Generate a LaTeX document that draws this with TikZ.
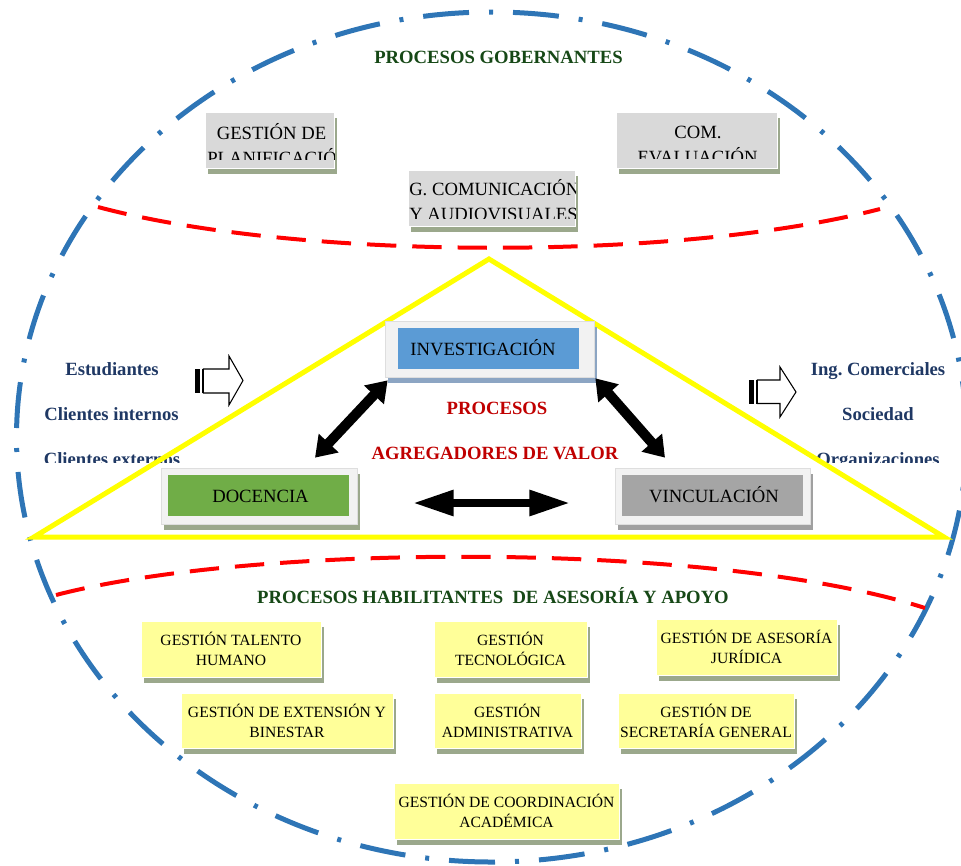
\documentclass[tikz,border=0pt]{standalone}
\usepackage{fontspec}
\setmainfont{Liberation Serif}
\usetikzlibrary{calc,shadows,arrows.meta}
\frenchspacing

\definecolor{ellblue}{RGB}{46,117,182}
\definecolor{dashred}{RGB}{255,0,0}
\definecolor{triyellow}{RGB}{255,255,0}
\definecolor{headgreen}{RGB}{22,72,22}
\definecolor{clientblue}{RGB}{31,56,100}
\definecolor{valred}{RGB}{192,0,0}
\definecolor{govgray}{RGB}{217,217,217}
\definecolor{shgreen}{RGB}{155,168,140}
\definecolor{shblue}{RGB}{140,165,195}
\definecolor{shgray}{RGB}{160,160,160}
\definecolor{framegray}{RGB}{242,242,242}
\definecolor{framedraw}{RGB}{222,222,222}
\definecolor{invblue}{RGB}{91,155,213}
\definecolor{docgreen}{RGB}{112,173,71}
\definecolor{vingray}{RGB}{165,165,165}
\definecolor{supyellow}{RGB}{255,255,153}

\tikzset{
  ellipseline/.style={ellblue, line width=3.75pt,
    dash pattern=on 34.5pt off 15pt on 3pt off 15pt, dash phase=60pt},
  sepline/.style={dashred, line width=3pt, dash pattern=on 22pt off 12pt},
  triline/.style={triyellow, line width=3.75pt, line join=miter},
  govbox/.style={fill=govgray, draw=white, line width=0.5pt,
    minimum width=#1, minimum height=42pt, inner sep=0pt,
    drop shadow={shadow xshift=2.25pt, shadow yshift=-4.5pt, fill=shgreen, opacity=1}},
  govtext/.style={font=\fontsize{14}{18}\selectfont, inner sep=0pt, text=black},
  frame/.style={fill=framegray, draw=framedraw, line width=0.5pt,
    minimum width=#1, minimum height=42pt, inner sep=0pt},
  framesh/.style={drop shadow={shadow xshift=2.25pt, shadow yshift=-4.5pt, fill=#1, opacity=1}},
  corebox/.style={minimum width=135.75pt, minimum height=30.75pt, inner sep=0pt},
  coretext/.style={font=\fontsize{14}{18}\selectfont, inner sep=0pt, anchor=base},
  supbox/.style={fill=supyellow, draw=white, line width=0.5pt,
    minimum width=#1, minimum height=42pt, inner xsep=0pt, inner ysep=2pt,
    align=center, font=\fontsize{11.7}{15}\selectfont,
    drop shadow={shadow xshift=2.25pt, shadow yshift=-4.5pt, fill=shgreen, opacity=1}},
  headtext/.style={font=\fontsize{14}{18}\selectfont\bfseries, text=headgreen, inner sep=0pt, anchor=base},
  valtext/.style={font=\fontsize{14}{18}\selectfont\bfseries, text=valred, inner sep=0pt, anchor=base},
  clienttext/.style={font=\fontsize{14}{18}\selectfont\bfseries, text=clientblue, inner sep=0pt, anchor=base},
  diagarrow/.style={line width=7.5pt,
    {Triangle[length=15pt,width=19.5pt]}-{Triangle[length=15pt,width=19.5pt]}},
  horizarrow/.style={line width=6.5pt,
    {Triangle[length=31pt,width=18pt]}-{Triangle[length=31pt,width=18pt]}},
  hollowarrow/.style={draw=black, fill=white, line width=0.8pt, line join=miter},
}

\begin{document}
\begin{tikzpicture}[x=0.75pt,y=-0.75pt]
\useasboundingbox (0,0) rectangle (961,865);

% outer boundary of the process map
\draw[ellipseline] (491.5,437) ellipse [x radius=356.25pt, y radius=318.75pt];

% separators between the three levels
\draw[sepline] (98,207) .. controls (300,261) and (680,261) .. (880,209);
\draw[sepline] (56,595) .. controls (260,542) and (720,542) .. (925,608);

% ---------- governing processes ----------
\node[headtext] (gobtitle) at (498.5,63) {PROCESOS GOBERNANTES};

\node[govbox=96.75pt] (plan) at (269.5,140) {};
\begin{scope}
  \clip (205,112) rectangle (334,159);
  \node[govtext, anchor=base] (plana) at (271.5,139) {GESTIÓN DE};
  \node[govtext, anchor=base west] (planb) at (207,164) {PLANIFICACIÓ};
\end{scope}

\node[govbox=120.75pt] (comev) at (696.5,140) {};
\begin{scope}
  \clip (616,112) rectangle (777,158);
  \node[govtext, anchor=base] (comeva) at (698,138) {COM.};
  \node[govtext, anchor=base] (comevb) at (697.5,163) {EVALUACIÓN};
\end{scope}

\node[govbox=125.25pt] (gcom) at (491.5,198) {};
\begin{scope}
  \clip (408,170) rectangle (575,218);
  \node[govtext, anchor=base west] (gcoma) at (409,195) {G. COMUNICACIÓN};
  \node[govtext, anchor=base west] (gcomb) at (409,220) {Y AUDIOVISUALES};
\end{scope}

% ---------- inputs and outputs ----------
\begin{scope}
  \clip (0,330) rectangle (200,462);
  \node[clienttext] (inA) at (112,375) {Estudiantes};
  \node[clienttext] (inB) at (111.5,420) {Clientes internos};
  \node[clienttext] (inC) at (112,465) {Clientes externos};
\end{scope}
\begin{scope}
  \clip (790,330) rectangle (961,462);
  \node[clienttext] (outA) at (878,375) {Ing. Comerciales};
  \node[clienttext] (outB) at (878,420) {Sociedad};
  \node[clienttext] (outC) at (878,465) {Organizaciones};
\end{scope}

% striped block arrows
\fill (195,369) rectangle (200,393);
\fill (201.7,369) rectangle (203.3,393);
\draw[hollowarrow] (203.3,369) -- (229,369) -- (229,356) -- (243,380.5)
  -- (229,405) -- (229,393) -- (203.3,393) -- cycle;
\fill (749.3,380) rectangle (753.5,403.5);
\fill (755.8,380) rectangle (757.3,403.5);
\draw[hollowarrow] (757.3,380) -- (780,380) -- (780,367) -- (796,392)
  -- (780,417) -- (780,403.5) -- (757.3,403.5) -- cycle;

% ---------- value-adding processes ----------
\draw[triline] (489,259) -- (34,537) -- (944,537) -- cycle;

\node[frame=156.75pt, framesh=shblue] (inv) at (489.5,349) {};
\node[corebox, fill=invblue] (invcore) at (488.5,348.5) {};
\node[coretext] (invtxt) at (483,355) {INVESTIGACIÓN};

\node[frame=147pt, framesh=shgreen] (doc) at (259,496) {};
\node[corebox, fill=docgreen] (doccore) at (258.5,495.5) {};
\node[coretext] (doctxt) at (260.5,502) {DOCENCIA};

\node[frame=146.25pt, framesh=shgray] (vin) at (712.5,496) {};
\node[corebox, fill=vingray] (vincore) at (712.5,495.5) {};
\node[coretext] (vintxt) at (714,502) {VINCULACIÓN};

\node[valtext] (valA) at (497,414) {PROCESOS};
\node[valtext] (valB) at (495,459) {AGREGADORES DE VALOR};

\draw[diagarrow] ($(inv.south west)+(3,3)$) -- ($(doc.north)+(56,-10)$);
\draw[diagarrow] ($(inv.south east)+(1,1)$) -- ($(vin.north)+(-47.5,-10)$);
\draw[horizarrow] ($(doc.east)+(55,7)$) -- ($(vin.west)+(-44,7)$);

% ---------- enabling processes ----------
\node[headtext] (habtitle) at (493,603) {PROCESOS HABILITANTES\ \ DE ASESORÍA Y APOYO};

\node[supbox=135pt] (talento) at (231,649) {GESTIÓN TALENTO\\HUMANO};
\node[supbox=114.75pt] (tecno) at (510.5,649) {GESTIÓN\\TECNOLÓGICA};
\node[supbox=135.75pt] (juri) at (746.5,647) {GESTIÓN DE ASESORÍA\\JURÍDICA};
\node[supbox=159pt, minimum height=41.25pt] (ext) at (287,720.5) {GESTIÓN DE EXTENSIÓN Y\\BINESTAR};
\node[supbox=110.25pt, minimum height=41.25pt] (adm) at (507.5,720.5) {GESTIÓN\\ADMINISTRATIVA};
\node[supbox=132pt, minimum height=41.25pt] (secr) at (706,720.5) {GESTIÓN DE\\SECRETARÍA GENERAL};
\node[supbox=168.75pt] (coord) at (506.5,811) {GESTIÓN DE COORDINACIÓN\\ACADÉMICA};
\end{tikzpicture}
\end{document}
